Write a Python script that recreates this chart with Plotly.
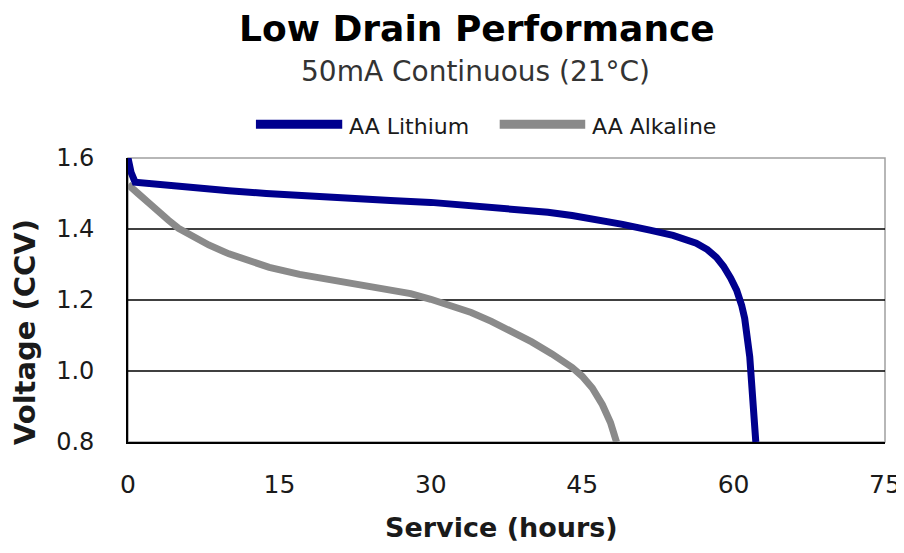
import plotly.graph_objects as go

# service hours and closed-circuit voltage
lithium_hours = [0, 0.3, 0.7, 2, 5.4, 10, 13.7, 18, 22, 26, 30, 34, 38, 41.6, 44,
                 46.8, 49, 51.7, 54, 56.3, 57.4, 58.3, 59, 59.7, 60.3, 60.8,
                 61.1, 61.6, 62.0, 62.2]
lithium_volts = [1.60, 1.56, 1.532, 1.528, 1.518, 1.508, 1.50, 1.492, 1.485, 1.48,
                 1.475, 1.466, 1.457, 1.447, 1.438, 1.425, 1.413, 1.397, 1.382,
                 1.36, 1.342, 1.32, 1.295, 1.262, 1.228, 1.185, 1.148, 1.04, 0.90,
                 0.80]

alkaline_hours = [0, 0.5, 1, 2, 3, 3.5, 4, 5, 6, 7, 8, 10, 12, 14, 17, 20, 23, 26,
                  28, 30, 32, 34, 36, 38, 40, 42, 43, 44, 45, 46, 47, 47.8, 48.4]
alkaline_volts = [1.525, 1.515, 1.50, 1.475, 1.453, 1.44, 1.425, 1.402, 1.385, 1.37,
                  1.355, 1.33, 1.31, 1.292, 1.272, 1.258, 1.245, 1.232, 1.218, 1.202,
                  1.185, 1.165, 1.14, 1.112, 1.082, 1.048, 1.03, 1.01, 0.985, 0.952,
                  0.905, 0.855, 0.80]

x_ticks = [0, 15, 30, 45, 60, 75]
y_ticks = [0.8, 1.0, 1.2, 1.4, 1.6]
grid_vals = [1.0, 1.2, 1.4]

blue = '#00008e'
grey = '#8a8a8a'
font = 'DejaVu Sans, Verdana, sans-serif'
ink = '#1a1a1a'

fig = go.Figure()
fig.add_trace(go.Scatter(x=alkaline_hours, y=alkaline_volts, mode='lines',
                         name='AA Alkaline', line=dict(color=grey, width=7)))
fig.add_trace(go.Scatter(x=lithium_hours, y=lithium_volts, mode='lines',
                         name='AA Lithium', line=dict(color=blue, width=7)))

# plot frame: grey top/right, black axes drawn over it
fig.add_shape(type='rect', xref='paper', yref='paper', x0=0, x1=1, y0=0, y1=1,
              line=dict(color='#a0a0a0', width=1.5), layer='below')
for g in grid_vals:
    fig.add_hline(y=g, line=dict(color='black', width=1.6), layer='below')

# legend drawn by hand to get the long swatches
legend_items = [('AA Lithium', blue, 0.169, 0.283), ('AA Alkaline', grey, 0.491, 0.604)]
for name, col, x0, x1 in legend_items:
    fig.add_shape(type='line', xref='paper', yref='paper', x0=x0, x1=x1,
                  y0=1.119, y1=1.119, line=dict(color=col, width=9))
    fig.add_annotation(text=name, xref='paper', yref='paper', x=x1 + 0.006,
                       y=1.112, xanchor='left', yanchor='middle', showarrow=False,
                       font=dict(size=22, color=ink, family=font))

fig.add_annotation(text='<b>Low Drain Performance</b>', xref='paper', yref='paper',
                   x=0.4604, y=1.456, showarrow=False, xanchor='center', yanchor='middle',
                   font=dict(size=36, color='black', family=font))
fig.add_annotation(text='50mA Continuous (21°C)', xref='paper', yref='paper',
                   x=0.459, y=1.305, showarrow=False, xanchor='center', yanchor='middle',
                   font=dict(size=28, color='#333333', family=font))

# axis titles
fig.add_annotation(text='<b>Service (hours)</b>', xref='paper', yref='paper',
                   x=0.493, y=-0.3, showarrow=False, xanchor='center', yanchor='middle',
                   font=dict(size=27, color=ink, family=font))
fig.add_annotation(text='<b>Voltage (CCV)</b>', xref='paper', yref='paper',
                   x=-0.136, y=0.387, showarrow=False, xanchor='center', yanchor='middle',
                   textangle=-90, font=dict(size=29, color=ink, family=font))

fig.update_xaxes(range=[0, 75], tickvals=x_ticks, showgrid=False, zeroline=False,
                 showline=True, linecolor='black', linewidth=1.6, automargin=False,
                 ticks='outside', ticklen=19, tickcolor='rgba(0,0,0,0)',
                 ticklabeloverflow='allow',
                 tickfont=dict(size=25, color=ink, family=font))
fig.update_yaxes(range=[0.8, 1.6], tickvals=y_ticks, tickformat='.1f', showgrid=False,
                 zeroline=False, showline=True, linecolor='black', linewidth=1.6,
                 automargin=False, ticks='outside', ticklen=27,
                 tickcolor='rgba(0,0,0,0)',
                 tickfont=dict(size=24, color=ink, family=font))

# the page body adds an 8px margin; keep the figure inside the window
fig.update_layout(width=896, height=537, showlegend=False,
                  plot_bgcolor='white', paper_bgcolor='white',
                  margin=dict(l=120, r=19, t=150, b=103))

fig.write_html('out.html')
